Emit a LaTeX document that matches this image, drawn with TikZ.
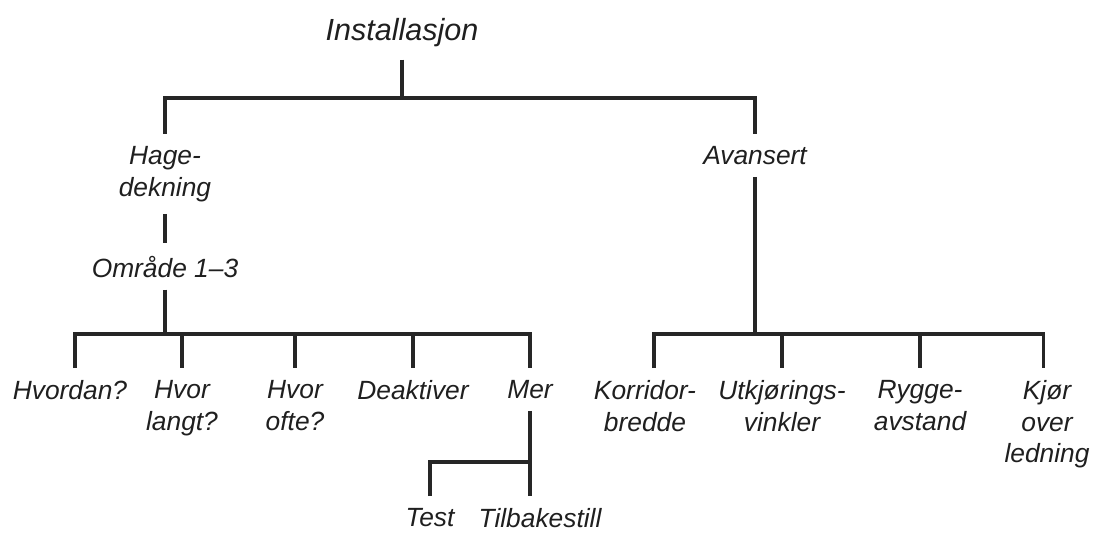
\documentclass[tikz,border=0pt]{standalone}
\usepackage{fontspec}
\setmainfont{Liberation Sans}
\begin{document}
\begin{tikzpicture}[x=0.02cm, y=-0.02cm,
    lbl/.style={font=\itshape\fontsize{15}{18}\selectfont, align=center,
        inner xsep=1pt, inner ysep=6.8pt, text=black!88},
    conn/.style={line width=1.8pt, draw=black!85}]
    \useasboundingbox (0,0) rectangle (1094,533);

    % Racine
    \node[lbl, font=\itshape\fontsize{17.4}{20}\selectfont, anchor=base] (inst) at (402,41) {Installasjon};

    % Niveau 1
    \node[lbl, anchor=north] (hage) at (165,134) {Hage-\\dekning};
    \node[lbl, anchor=north] (avan) at (755,134) {Avansert};
    \node[lbl, anchor=base] (omr) at (165,277) {Område 1–3};

    % Niveau 2 (gauche)
    \node[lbl, anchor=north] (hvordan) at (70,368) {Hvordan?};
    \node[lbl, anchor=north] (hvorlangt) at (182,368) {Hvor\\langt?};
    \node[lbl, anchor=north] (hvorofte) at (295,368) {Hvor\\ofte?};
    \node[lbl, anchor=north] (deakt) at (413,368) {Deaktiver};
    \node[lbl, anchor=north] (mer) at (530,368) {Mer};

    % Niveau 2 (droite)
    \node[lbl, anchor=north] (korr) at (645,368) {Korridor-\\bredde};
    \node[lbl, anchor=north] (utkj) at (782,368) {Utkjørings-\\vinkler};
    \node[lbl, anchor=north] (rygge) at (920,368) {Rygge-\\avstand};
    \node[lbl, anchor=north] (kjor) at (1047,368) {Kjør\\over\\ledning};

    % Niveau 3
    \node[lbl, anchor=north] (test) at (430,496) {Test};
    \node[lbl, anchor=north] (tilb) at (540,496) {Tilbakestill};

    % Barres
    \coordinate (b0) at (401,98);
    \coordinate (b1) at (164,334);
    \coordinate (b2) at (755,334);
    \coordinate (b3) at (530,462);

    % Liaisons
    \draw[conn] (inst.south) -- (inst.south |- b0);
    \draw[conn] (hage.north) |- (b0) -| (avan.north);

    \draw[conn] (hage.south) -- (omr.north);
    \draw[conn] (omr.south) -- (omr.south |- b1);
    \draw[conn] ([xshift=0.1cm]hvordan.north) |- (b1) -| (mer.north);
    \foreach \n in {hvorlangt,hvorofte,deakt}
        \draw[conn] (b1 -| \n.north) -- (\n.north);

    \draw[conn] (avan.south) -- (avan.south |- b2);
    \draw[conn] ([xshift=0.18cm]korr.north) |- (b2) -| ([xshift=-0.07cm]kjor.north);
    \foreach \n in {utkj,rygge}
        \draw[conn] (b2 -| \n.north) -- (\n.north);

    \draw[conn] (mer.south) -- (mer.south |- tilb.north);
    \draw[conn] (test.north) |- (b3);
\end{tikzpicture}
\end{document}
